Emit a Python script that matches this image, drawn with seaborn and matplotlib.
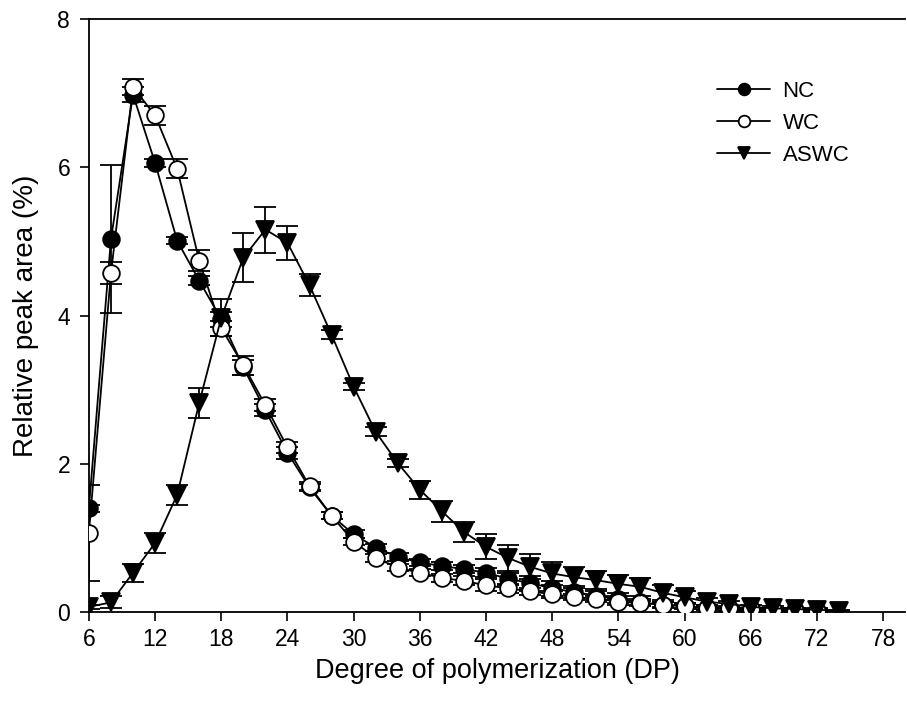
import numpy as np
import pandas as pd
import matplotlib
matplotlib.use("Agg")
import matplotlib.pyplot as plt
import seaborn as sns

# values
dp_nc = list(range(6, 74, 2))
nc = [1.40, 5.03, 6.98, 6.06, 5.01, 4.47, 3.95, 3.30, 2.72, 2.15, 1.68, 1.30,
      1.05, 0.87, 0.74, 0.67, 0.62, 0.58, 0.53, 0.45, 0.39, 0.32, 0.27, 0.22,
      0.17, 0.13, 0.10, 0.08, 0.06, 0.05, 0.04, 0.03, 0.03, 0.02]
nc_err = [0.05, 1.00, 0.10, 0.05, 0.05, 0.06, 0.10, 0.10, 0.08, 0.08, 0.05, 0.05,
          0.05, 0.05, 0.05, 0.05, 0.05, 0.05, 0.06, 0.08, 0.10, 0.10, 0.08, 0.06,
          0.05, 0.05, 0.04, 0.04, 0.03, 0.03, 0.02, 0.02, 0.02, 0.02]

dp_wc = list(range(6, 74, 2))
wc = [1.07, 4.57, 7.08, 6.70, 5.98, 4.74, 3.83, 3.33, 2.79, 2.22, 1.70, 1.30,
      0.95, 0.73, 0.60, 0.53, 0.46, 0.42, 0.36, 0.32, 0.28, 0.24, 0.20, 0.18,
      0.14, 0.12, 0.10, 0.08, 0.06, 0.05, 0.04, 0.03, 0.02, 0.02]
wc_err = [0.65, 0.15, 0.11, 0.13, 0.13, 0.14, 0.10, 0.13, 0.08, 0.08, 0.05, 0.05,
          0.05, 0.05, 0.05, 0.05, 0.05, 0.06, 0.08, 0.06, 0.05, 0.05, 0.04, 0.04,
          0.04, 0.03, 0.03, 0.03, 0.02, 0.02, 0.02, 0.02, 0.02, 0.02]

dp_aswc = list(range(6, 76, 2))
aswc = [0.07, 0.13, 0.53, 0.93, 1.58, 2.82, 3.97, 4.78, 5.16, 4.98, 4.41, 3.74,
        3.04, 2.43, 2.01, 1.65, 1.36, 1.08, 0.88, 0.73, 0.61, 0.52, 0.47, 0.43,
        0.38, 0.34, 0.26, 0.20, 0.14, 0.11, 0.07, 0.05, 0.04, 0.03, 0.02]
aswc_err = [0.03, 0.08, 0.12, 0.13, 0.14, 0.20, 0.25, 0.33, 0.31, 0.23, 0.15, 0.06,
            0.05, 0.06, 0.06, 0.12, 0.14, 0.14, 0.17, 0.17, 0.17, 0.15, 0.14, 0.12,
            0.12, 0.12, 0.10, 0.08, 0.05, 0.04, 0.03, 0.03, 0.02, 0.02, 0.01]

x_ticks = [6, 12, 18, 24, 30, 36, 42, 48, 54, 60, 66, 72, 78]
y_ticks = [0, 2, 4, 6, 8]

sns.set_style("ticks")
plt.rcParams['font.family'] = ['Liberation Sans', 'DejaVu Sans']

fig = plt.figure(figsize=(9.07, 7.12), dpi=100)
ax = fig.add_axes([0.098, 0.1404, 0.900, 0.8329])

series = [
    ("NC", dp_nc, nc, nc_err, "o", "black"),
    ("WC", dp_wc, wc, wc_err, "o", "white"),
    ("ASWC", dp_aswc, aswc, aswc_err, "v", "black"),
]

for name, xs, ys, es, mk, fc in series:
    df = pd.DataFrame({"DP": xs, "area": ys})
    ax.errorbar(xs, ys, yerr=es, fmt="none", ecolor="black", elinewidth=1.3,
                capsize=8, capthick=1.3, zorder=2)
    sns.lineplot(data=df, x="DP", y="area", ax=ax, color="black", linewidth=1.3,
                 marker=mk, markersize=12 if mk == "o" else 13,
                 markerfacecolor=fc, markeredgecolor="black",
                 markeredgewidth=1.3, label=name, zorder=3)

ax.set_xlim(6, 80)
ax.set_ylim(0, 8)
ax.set_xticks(x_ticks)
ax.set_yticks(y_ticks)
ax.tick_params(direction="out", length=6.5, width=1.2, labelsize=16.5,
               color="black", labelcolor="black")
ax.tick_params(axis="x", pad=5)
ax.tick_params(axis="y", pad=7)
for s in ["left", "bottom", "top"]:
    ax.spines[s].set_linewidth(1.3)
    ax.spines[s].set_color("black")
ax.spines["right"].set_visible(False)

ax.set_xlabel("Degree of polymerization (DP)", fontsize=19.5, labelpad=5,
              color="black")
ax.set_ylabel("Relative peak area (%)", fontsize=20, labelpad=13,
              color="black")

ax.legend(loc="upper left", bbox_to_anchor=(0.745, 0.93), frameon=False,
          fontsize=16, markerscale=0.7, handlelength=2.4, handletextpad=0.55,
          labelspacing=0.5, labelcolor="black")

fig.savefig("out.png", dpi=100)
